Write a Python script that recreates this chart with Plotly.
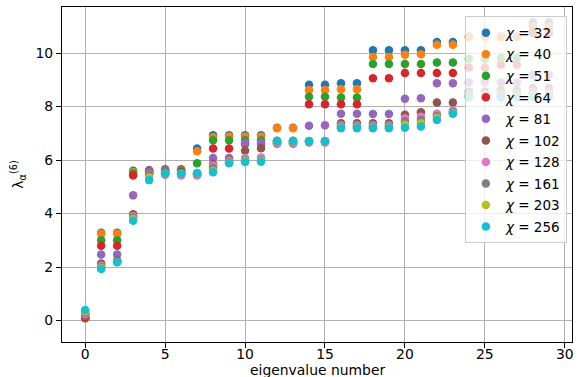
import plotly.graph_objects as go

chis = [32, 40, 51, 64, 81, 102, 128, 161, 203, 256]
colors = ["#1f77b4", "#ff7f0e", "#2ca02c", "#d62728", "#9467bd",
          "#8c564b", "#e377c2", "#7f7f7f", "#bcbd22", "#17becf"]

eig_index = list(range(30))

# rows: eigenvalue number; columns: chi = 32 ... 256
rows = [
    [0.10, 0.10, 0.09, 0.12, 0.18, 0.22, 0.25, 0.30, 0.35, 0.40],
    [3.28, 3.25, 3.00, 2.80, 2.47, 2.13, 2.05, 2.00, 1.97, 1.93],
    [3.28, 3.25, 3.00, 2.80, 2.47, 2.25, 2.20, 2.20, 2.18, 2.18],
    [5.60, 5.55, 5.50, 5.42, 4.68, 3.97, 3.90, 3.85, 3.80, 3.73],
    [5.63, 5.60, 5.58, 5.57, 5.55, 5.50, 5.48, 5.45, 5.35, 5.25],
    [5.66, 5.62, 5.60, 5.55, 5.55, 5.48, 5.45, 5.50, 5.50, 5.50],
    [5.66, 5.62, 5.60, 5.55, 5.52, 5.45, 5.42, 5.48, 5.50, 5.50],
    [6.43, 6.33, 5.88, 5.45, 5.50, 5.45, 5.42, 5.48, 5.50, 5.52],
    [6.93, 6.85, 6.74, 6.43, 6.08, 5.85, 5.80, 5.70, 5.60, 5.54],
    [6.93, 6.88, 6.74, 6.43, 6.08, 6.00, 5.97, 5.92, 5.90, 5.88],
    [6.93, 6.88, 6.74, 6.60, 6.65, 6.35, 6.08, 6.00, 5.97, 5.93],
    [6.93, 6.88, 6.74, 6.60, 6.65, 6.44, 6.10, 6.00, 5.97, 5.94],
    [7.21, 7.19, 6.72, 6.62, 6.70, 6.62, 6.62, 6.68, 6.70, 6.71],
    [7.21, 7.19, 6.72, 6.62, 6.70, 6.62, 6.62, 6.68, 6.70, 6.71],
    [8.81, 8.62, 8.37, 8.09, 7.28, 6.70, 6.66, 6.68, 6.70, 6.71],
    [8.81, 8.62, 8.37, 8.09, 7.30, 6.70, 6.66, 6.68, 6.70, 6.71],
    [8.87, 8.65, 8.34, 8.09, 7.73, 7.38, 7.30, 7.25, 7.22, 7.19],
    [8.87, 8.65, 8.34, 8.09, 7.73, 7.38, 7.30, 7.25, 7.22, 7.19],
    [10.10, 9.85, 9.59, 9.06, 7.72, 7.38, 7.30, 7.25, 7.22, 7.19],
    [10.10, 9.85, 9.59, 9.06, 7.72, 7.38, 7.30, 7.25, 7.22, 7.19],
    [10.10, 9.94, 9.59, 9.25, 8.29, 7.69, 7.56, 7.44, 7.32, 7.21],
    [10.10, 9.95, 9.59, 9.25, 8.31, 7.79, 7.62, 7.50, 7.38, 7.25],
    [10.41, 10.31, 9.65, 9.25, 8.87, 8.15, 7.73, 7.65, 7.58, 7.50],
    [10.41, 10.31, 9.65, 9.25, 8.87, 8.15, 7.85, 7.80, 7.76, 7.73],
    [10.62, 10.60, 9.79, 9.46, 8.91, 8.56, 8.45, 8.40, 8.37, 8.35],
    [10.62, 10.60, 9.79, 9.46, 8.91, 8.56, 8.45, 8.40, 8.37, 8.35],
    [10.62, 10.60, 9.81, 9.56, 8.90, 8.60, 8.50, 8.45, 8.40, 8.35],
    [10.62, 10.60, 9.81, 9.56, 8.90, 8.60, 8.50, 8.45, 8.40, 8.35],
    [11.15, 11.00, 10.80, 10.75, 9.19, 8.69, 8.55, 8.50, 8.45, 8.37],
    [11.15, 11.00, 10.80, 10.75, 9.19, 8.69, 8.55, 8.50, 8.45, 8.37],
]

x_ticks = [0, 5, 10, 15, 20, 25, 30]
y_ticks = [0, 2, 4, 6, 8, 10]

FONT = "DejaVu Sans"
fig = go.Figure()
for j, (chi, col) in enumerate(zip(chis, colors)):
    fig.add_trace(go.Scatter(
        x=eig_index, y=[r[j] for r in rows], mode="markers",
        marker=dict(color=col, size=8.5, line=dict(width=0)),
        name=f"<i>χ</i> = {chi}", legendgroup=str(chi),
    ))

axis_common = dict(showline=True, linecolor="black", linewidth=1.1, mirror=True,
                   showgrid=True, gridcolor="#b0b0b0", gridwidth=1.1,
                   ticks="outside", ticklen=5, tickwidth=1.1, tickcolor="black",
                   zeroline=False, automargin=False,
                   tickfont=dict(family=FONT, size=13.9, color="black"))

fig.update_xaxes(range=[-1.45, 30.45], tickvals=x_ticks, ticklabelstandoff=-6,
                 **axis_common)
fig.update_yaxes(range=[-0.80, 11.72], tickvals=y_ticks,
                 title=dict(text="λ<sub>α</sub><sup>(6)</sup>", font=dict(family=FONT, size=13.9, color="black"), standoff=8),
                 **axis_common)

fig.add_annotation(text="eigenvalue number", xref="paper", yref="paper",
                   x=0.5, y=0, yshift=-18, xanchor="center", yanchor="top",
                   showarrow=False, font=dict(family=FONT, size=13.9, color="black"))

fig.update_layout(
    width=577, height=377,
    margin=dict(l=62, r=5, t=7, b=35, autoexpand=False),
    plot_bgcolor="white", paper_bgcolor="white",
    font=dict(family=FONT, size=13.9, color="black"),
    legend=dict(x=0.79, y=0.972, xanchor="left", yanchor="top",
                bgcolor="rgba(255,255,255,0.8)", bordercolor="#cccccc", borderwidth=1,
                font=dict(family=FONT, size=13.5), tracegroupgap=1, itemwidth=30),
    showlegend=True,
)

fig.write_html("out.html", config={"displayModeBar": False},
               post_script="document.body.style.margin='0';document.body.style.overflow='hidden';")
